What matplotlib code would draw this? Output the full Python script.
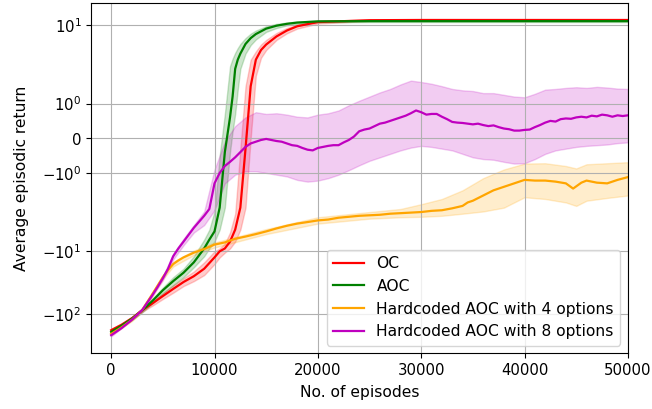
import matplotlib
matplotlib.use("Agg")
import matplotlib.pyplot as plt
from matplotlib.ticker import NullLocator

# OC / AOC curves (episodes, average return)
oc_x = [0, 1000, 2000, 3000, 4000, 5000, 6000, 7000, 8000, 9000, 10000, 10500,
        11000, 11500, 12000, 12500, 13000, 13500, 14000, 14500, 15000, 16000,
        17000, 18000, 20000, 25000, 30000, 40000, 50000]
oc_mean = [-183, -150, -118, -88, -68, -52, -40, -31, -25, -19, -12.5, -10,
           -9, -7, -4.5, -2, -0.3, 1.5, 2.8, 4.0, 4.9, 6.6, 8.2, 9.6, 11.2,
           12.0, 12.1, 12.1, 12.1]
oc_upper = [-175, -142, -112, -83, -63, -47, -35, -27, -21, -15, -10, -9,
            -7.5, -5, -2.5, -0.3, 1.5, 2.8, 3.8, 4.9, 5.8, 7.5, 9, 10.2, 11.6,
            12.3, 12.4, 12.4, 12.4]
oc_lower = [-192, -158, -124, -93, -74, -58, -46, -36, -30, -24, -16, -12.5,
            -10.5, -9, -7, -4.5, -2, 0, 1.8, 3.0, 4.0, 5.8, 7.4, 8.8, 10.6,
            11.7, 11.8, 11.8, 11.8]

aoc_x = [0, 1000, 2000, 3000, 4000, 5000, 6000, 7000, 8000, 9000, 9500, 10000,
         10500, 11000, 11500, 11750, 12000, 12250, 12500, 13000, 13500, 14000,
         15000, 16000, 17000, 18000, 20000, 25000, 30000, 40000, 50000]
aoc_mean = [-195, -155, -120, -88, -62, -42, -30, -22, -15, -9, -6.5, -4.8,
            -2.0, -0.4, 0.6, 1.2, 2.0, 2.8, 3.5, 5.0, 6.2, 7.2, 8.8, 9.8,
            10.5, 11.0, 11.5, 11.6, 11.6, 11.6, 11.6]
aoc_upper = [-187, -147, -113, -82, -57, -38, -26, -19, -12, -6.5, -4.5, -2.3,
             -0.5, 0.7, 2.2, 2.9, 3.6, 4.3, 5.0, 6.2, 7.3, 8.2, 9.6, 10.5,
             11.0, 11.4, 11.8, 12.0, 12.0, 12.0, 12.0]
aoc_lower = [-203, -163, -127, -95, -68, -47, -35, -26, -18, -12, -9, -7,
             -4.5, -2.0, -0.4, 0.2, 0.7, 1.4, 2.0, 3.5, 4.8, 5.9, 7.8, 9.0,
             9.9, 10.5, 11.1, 11.2, 11.2, 11.2, 11.2]

# hardcoded AOC, 4 options
h4_x = [0, 1000, 2000, 3000, 4000, 5000, 5500, 6000, 6500, 7000, 8000, 9000,
        10000, 11000, 12000, 13000, 14000, 15000, 16000, 17000, 18000, 19000,
        20000, 21000, 22000, 23000, 24000, 25000, 26000, 27000, 28000, 29000,
        30000, 31000, 32000, 33000, 34000, 34500, 35000, 36000, 37000, 38000,
        39000, 40000, 41000, 42000, 43000, 44000, 44700, 45500, 46000, 47000,
        48000, 49000, 50000]
h4_mean = [-210, -165, -125, -87, -48, -26, -20, -16, -14, -12.5, -10.5, -9.2,
           -7.8, -7.2, -6.3, -5.8, -5.3, -4.8, -4.3, -3.9, -3.6, -3.4, -3.2,
           -3.1, -2.9, -2.8, -2.7, -2.65, -2.6, -2.5, -2.45, -2.4, -2.35,
           -2.25, -2.2, -2.05, -1.95, -1.85, -1.8, -1.65, -1.5, -1.4, -1.3,
           -1.2, -1.22, -1.22, -1.25, -1.3, -1.45, -1.28, -1.22, -1.28, -1.3,
           -1.2, -1.12]
h4_band_x = [0, 2000, 3000, 4000, 5000, 6000, 8000, 10000, 15000, 20000, 25000,
             28000, 30000, 32000, 34000, 36000, 38000, 40000, 42000, 44000,
             45000, 46000, 48000, 50000]
h4_upper = [-200, -119, -83, -45, -24, -14.8, -9.7, -7.2, -4.4, -2.85, -2.35,
            -2.1, -1.9, -1.75, -1.5, -1.15, -0.9, -0.73, -0.72, -0.8, -0.87,
            -0.75, -0.72, -0.69]
h4_lower = [-220, -131, -92, -52, -28, -17.5, -11.5, -8.7, -5.3, -3.6, -3.0,
            -2.85, -2.8, -2.7, -2.5, -2.3, -2.0, -1.7, -1.75, -1.85, -1.95,
            -1.8, -1.72, -1.65]

# hardcoded AOC, 8 options
h8_x = [0, 1000, 2000, 3000, 4000, 4500, 5000, 5500, 6000, 6500, 7000, 8000,
        9000, 9500, 10000, 10500, 11000, 11500, 12000, 12500, 13000, 13500,
        14000, 14500, 15000, 15500, 16000, 16500, 17000, 17500, 18000, 18500,
        19000, 19500, 20000, 20500, 21000, 21500, 22000, 22500, 23000, 23500,
        24000, 24500, 25000, 25500, 26000, 26500, 27000, 27500, 28000, 28500,
        29000, 29500, 30000, 30500, 31000, 31500, 32000, 32500, 33000, 33500,
        34000, 34500, 35000, 35500, 36000, 36500, 37000, 37500, 38000, 38500,
        39000, 39500, 40000, 40500, 41000, 41500, 42000, 42500, 43000, 43500,
        44000, 44500, 45000, 45500, 46000, 46500, 47000, 47500, 48000, 48500,
        49000, 49500, 50000]
h8_mean = [-220, -170, -125, -87, -50, -37, -27, -19, -12, -9, -7, -4.2,
           -2.7, -2.1, -1.3, -1.0, -0.8, -0.68, -0.55, -0.4, -0.25, -0.15,
           -0.1, -0.05, -0.02, -0.05, -0.08, -0.1, -0.15, -0.2, -0.22, -0.28,
           -0.33, -0.35, -0.28, -0.25, -0.22, -0.2, -0.2, -0.12, -0.05, 0.05,
           0.2, 0.25, 0.28, 0.35, 0.42, 0.45, 0.5, 0.55, 0.6, 0.65,
           0.72, 0.8, 0.75, 0.68, 0.7, 0.7, 0.62, 0.55, 0.47, 0.45,
           0.44, 0.42, 0.4, 0.42, 0.38, 0.35, 0.37, 0.32, 0.28, 0.26,
           0.22, 0.22, 0.24, 0.25, 0.32, 0.38, 0.45, 0.5, 0.48, 0.55,
           0.57, 0.56, 0.6, 0.62, 0.6, 0.65, 0.63, 0.68, 0.66, 0.62,
           0.66, 0.64, 0.66]
h8_band_x = [0, 3000, 5000, 6000, 7000, 8000, 9000, 10000, 11000, 12000, 13000,
             14000, 15000, 16000, 17000, 18000, 19000, 20000, 21000, 22000,
             23000, 24000, 25000, 26000, 27000, 28000, 29000, 30000, 31000,
             32000, 33000, 34000, 35000, 36000, 37000, 38000, 39000, 40000,
             41000, 42000, 43000, 44000, 45000, 46000, 47000, 48000, 49000,
             50000]
h8_upper = [-210, -83, -25, -11, -6.3, -3.8, -2.3, -0.9, -0.1, 0.35, 0.6,
            0.75, 0.7, 0.72, 0.68, 0.62, 0.6, 0.68, 0.72, 0.8, 0.95, 1.08,
            1.2, 1.32, 1.42, 1.55, 1.66, 1.62, 1.57, 1.5, 1.42, 1.38, 1.36,
            1.3, 1.3, 1.25, 1.2, 1.18, 1.28, 1.4, 1.42, 1.45, 1.47, 1.45,
            1.48, 1.46, 1.43, 1.42]
h8_lower = [-230, -92, -29, -13.5, -8, -5, -3.8, -2.2, -1.3, -1.05, -0.95,
            -0.95, -1.0, -1.05, -1.1, -1.2, -1.25, -1.22, -1.15, -1.05, -0.92,
            -0.78, -0.65, -0.55, -0.45, -0.35, -0.27, -0.22, -0.25, -0.3,
            -0.35, -0.45, -0.55, -0.6, -0.62, -0.68, -0.73, -0.72, -0.6,
            -0.45, -0.35, -0.3, -0.25, -0.22, -0.2, -0.18, -0.14, -0.12]

y_ticks = [-100, -10, -1, 0, 1, 10]

fig = plt.figure(figsize=(6.52, 4.09), dpi=100)
ax = fig.add_subplot(111)
fig.subplots_adjust(left=0.1396, right=0.963, top=0.992, bottom=0.136)

ax.fill_between(oc_x, oc_lower, oc_upper, color="red", alpha=0.2)
ax.plot(oc_x, oc_mean, color="red", lw=1.6, label="OC")
ax.fill_between(aoc_x, aoc_lower, aoc_upper, color="green", alpha=0.2)
ax.plot(aoc_x, aoc_mean, color="green", lw=1.6, label="AOC")
ax.fill_between(h4_band_x, h4_lower, h4_upper, color="orange", alpha=0.2)
ax.plot(h4_x, h4_mean, color="orange", lw=1.6,
        label="Hardcoded AOC with 4 options")
ax.fill_between(h8_band_x, h8_lower, h8_upper, color="m", alpha=0.2)
ax.plot(h8_x, h8_mean, color="m", lw=1.6,
        label="Hardcoded AOC with 8 options")

ax.set_yscale("symlog", linthresh=2)
ax.set_yticks(y_ticks)
ax.yaxis.set_minor_locator(NullLocator())
ax.set_ylim(-430, 22.4)
ax.set_xlim(-1950, 50000)
ax.grid(True)
ax.tick_params(labelsize=10.7)
ax.set_xlabel("No. of episodes", fontsize=11.2, labelpad=5)
ax.set_ylabel("Average episodic return", fontsize=11.2, labelpad=9)
ax.legend(loc="lower right", fontsize=11.2)

fig.savefig("out.png", dpi=100)
